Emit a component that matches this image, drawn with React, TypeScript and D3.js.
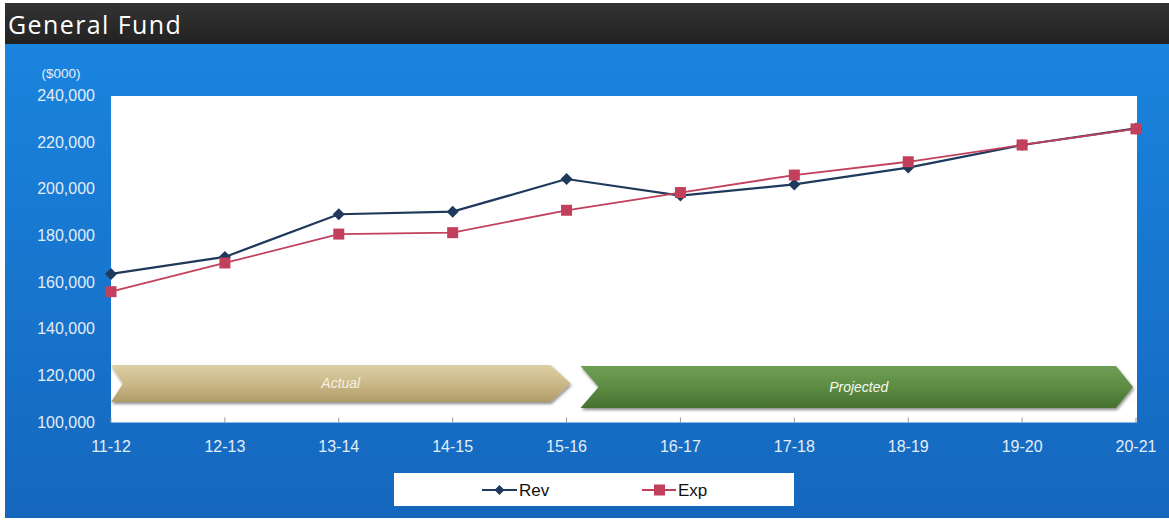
import React from "react";
import * as d3 from "d3";

const categories = ["11-12", "12-13", "13-14", "14-15", "15-16", "16-17", "17-18", "18-19", "19-20", "20-21"];
const revValues = [163700, 171000, 189300, 190400, 204400, 197300, 202100, 209300, 219000, 226100];
const expValues = [156100, 168400, 180800, 181400, 191000, 198600, 206100, 211800, 219000, 225900];
const yTicks = [100000, 120000, 140000, 160000, 180000, 200000, 220000, 240000];
const phaseLabels = ["Actual", "Projected"];

const W = 1169;
const H = 521;
const plot = { left: 111, right: 1137, top: 96, bottom: 422.5 };

export default function App() {
  const x = d3.scalePoint<string>().domain(categories).range([111, 1136]).padding(0);
  const y = d3.scaleLinear().domain([100000, 240000]).range([plot.bottom, plot.top]);
  const fmt = d3.format(",");

  const line = d3
    .line<number>()
    .x((_, i) => x(categories[i]) as number)
    .y((d) => y(d));

  const revColor = "#1f3a5c";
  const expColor = "#c2405c";

  const diamond = (cx: number, cy: number, r: number) =>
    `M${cx},${cy - r}L${cx + r},${cy}L${cx},${cy + r}L${cx - r},${cy}Z`;

  const a0 = x(categories[0]) as number;
  const a4 = x(categories[4]) as number;
  const a9 = x(categories[9]) as number;
  const actL = a0, actEnd = a4 - 16, actTip = a4 + 4, actT = 365, actB = 402, actNotch = 12;
  const proL = a4 + 14, proEnd = a9 - 20, proTip = a9 - 3, proT = 366, proB = 408, proNotch = 18;
  const actMid = (actT + actB) / 2;
  const proMid = (proT + proB) / 2;
  const actPath = `M${actL},${actT}L${actEnd},${actT}L${actTip},${actMid}L${actEnd},${actB}L${actL},${actB}L${actL + actNotch},${actMid}Z`;
  const proPath = `M${proL},${proT}L${proEnd},${proT}L${proTip},${proMid}L${proEnd},${proB}L${proL},${proB}L${proL + proNotch},${proMid}Z`;

  const axisFont = "'Liberation Sans', Arial, sans-serif";
  const labelColor = "#e4edf8";

  return (
    <svg
      width={W}
      height={H}
      style={{ position: "absolute", left: 0, top: 0, display: "block" }}
    >
      <defs>
        <linearGradient id="bluebg" x1="0" y1="0" x2="0" y2="1">
          <stop offset="0" stopColor="#1a84de" />
          <stop offset="1" stopColor="#1567bd" />
        </linearGradient>
        <linearGradient id="titlebg" x1="0" y1="0" x2="0" y2="1">
          <stop offset="0" stopColor="#333333" />
          <stop offset="1" stopColor="#222222" />
        </linearGradient>
        <linearGradient id="tan" x1="0" y1="0" x2="0" y2="1">
          <stop offset="0" stopColor="#ddd0a6" />
          <stop offset="0.5" stopColor="#cbb987" />
          <stop offset="1" stopColor="#b09a69" />
        </linearGradient>
        <linearGradient id="green" x1="0" y1="0" x2="0" y2="1">
          <stop offset="0" stopColor="#6f9e55" />
          <stop offset="0.5" stopColor="#5d8c43" />
          <stop offset="1" stopColor="#45702f" />
        </linearGradient>
        <filter id="shadow" x="-5%" y="-20%" width="110%" height="160%">
          <feDropShadow dx="1" dy="2" stdDeviation="1.5" floodColor="#000" floodOpacity="0.45" />
        </filter>
      </defs>

      <rect x={0} y={0} width={W} height={H} fill="#ffffff" />
      <rect x={5} y={3} width={W - 5} height={41} fill="url(#titlebg)" />
      <text
        x={8}
        y={34}
        fill="#ffffff"
        fontFamily="'Open Sans', Lato, sans-serif"
        fontSize={25}
        letterSpacing={1.4}
      >
        General Fund
      </text>
      <rect x={5} y={44} width={W - 5} height={474} fill="url(#bluebg)" />

      <rect
        x={plot.left}
        y={plot.top}
        width={plot.right - plot.left}
        height={plot.bottom - plot.top}
        fill="#ffffff"
      />

      <text x={61} y={78} textAnchor="middle" fill={labelColor} fontFamily={axisFont} fontSize={13.5}>
        ($000)
      </text>
      {yTicks.map((t) => (
        <text
          key={t}
          x={95}
          y={y(t) + 5}
          textAnchor="end"
          fill={labelColor}
          fontFamily={axisFont}
          fontSize={16}
        >
          {fmt(t)}
        </text>
      ))}

      {categories.map((c) => (
        <g key={c}>
          <line
            x1={x(c) as number}
            x2={x(c) as number}
            y1={plot.bottom - 5}
            y2={plot.bottom}
            stroke="#999999"
            strokeWidth={1}
          />
          <text
            x={x(c) as number}
            y={452}
            textAnchor="middle"
            fill={labelColor}
            fontFamily={axisFont}
            fontSize={16}
          >
            {c}
          </text>
        </g>
      ))}

      <path d={actPath} fill="url(#tan)" filter="url(#shadow)" />
      <path d={proPath} fill="url(#green)" filter="url(#shadow)" />
      <text
        x={(actL + actTip) / 2}
        y={actMid + 4}
        textAnchor="middle"
        fill="#f4f0e4"
        fontFamily={axisFont}
        fontStyle="italic"
        fontSize={14}
      >
        {phaseLabels[0]}
      </text>
      <text
        x={(proL + proTip) / 2 + 2}
        y={proMid + 5}
        textAnchor="middle"
        fill="#f4f8f0"
        fontFamily={axisFont}
        fontStyle="italic"
        fontSize={14}
      >
        {phaseLabels[1]}
      </text>

      <path d={line(revValues) || ""} fill="none" stroke={revColor} strokeWidth={2.2} />
      <path d={line(expValues) || ""} fill="none" stroke={expColor} strokeWidth={1.8} />
      {revValues.map((v, i) => (
        <path key={"r" + i} d={diamond(x(categories[i]) as number, y(v), 6)} fill={revColor} />
      ))}
      {expValues.map((v, i) => (
        <rect
          key={"e" + i}
          x={(x(categories[i]) as number) - 5.5}
          y={y(v) - 5.5}
          width={11}
          height={11}
          fill={expColor}
        />
      ))}

      <rect x={394} y={473} width={400} height={33} fill="#ffffff" />
      <line x1={482} x2={517} y1={490} y2={490} stroke={revColor} strokeWidth={2} />
      <path d={diamond(499.5, 490, 5)} fill={revColor} />
      <text x={519} y={496} fill="#111111" fontFamily={axisFont} fontSize={17}>
        Rev
      </text>
      <line x1={642} x2={676} y1={490} y2={490} stroke={expColor} strokeWidth={2} />
      <rect x={654} y={484.5} width={11} height={11} fill={expColor} />
      <text x={678} y={496} fill="#111111" fontFamily={axisFont} fontSize={17}>
        Exp
      </text>
    </svg>
  );
}
